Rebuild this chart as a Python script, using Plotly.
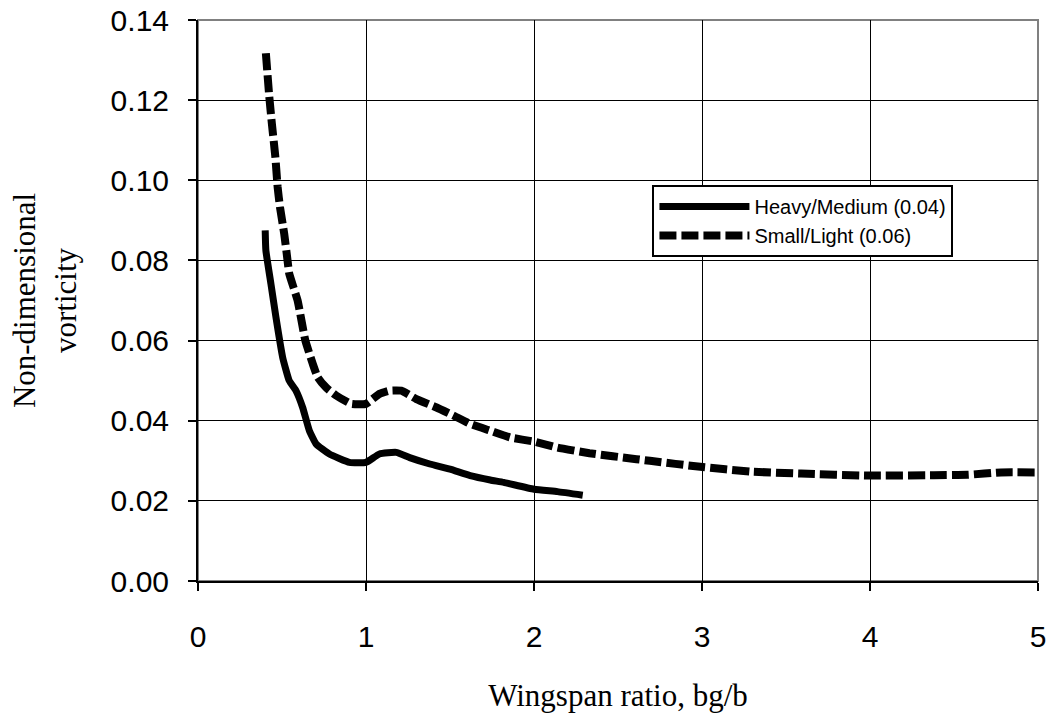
import plotly.graph_objects as go

# Heavy/Medium (0.04) series
heavy_x = [0.40, 0.404, 0.434, 0.464, 0.504, 0.543, 0.583, 0.623, 0.663, 0.703, 0.782, 0.901, 1.0,
           1.08, 1.18, 1.26, 1.38, 1.50, 1.62, 1.74, 1.82, 2.0, 2.14, 2.29]
heavy_y = [0.0875, 0.0825, 0.0742, 0.0658, 0.0558, 0.050, 0.0475, 0.0433, 0.0375, 0.0342, 0.0317, 0.0296, 0.0296,
           0.0317, 0.0321, 0.0308, 0.0292, 0.0279, 0.0263, 0.0252, 0.0246, 0.0229, 0.0223, 0.0214]

# Small/Light (0.06) series
light_x = [0.404, 0.424, 0.44, 0.46, 0.474, 0.488, 0.513, 0.533, 0.543, 0.593, 0.639, 0.683, 0.713, 0.762,
           0.822, 0.912, 1.0, 1.08, 1.14, 1.21, 1.30, 1.42, 1.52, 1.62, 1.74, 1.86, 2.0, 2.14, 2.33,
           2.61, 2.69, 2.99, 3.29, 3.59, 3.99, 4.38, 4.58, 4.78, 4.98]
light_y = [0.1317, 0.121, 0.114, 0.106, 0.0983, 0.0933, 0.0867, 0.080, 0.0767, 0.070, 0.060, 0.0542, 0.0508, 0.0483,
           0.0463, 0.0442, 0.0442, 0.0467, 0.0475, 0.0475, 0.0454, 0.0433, 0.0413, 0.0392, 0.0375, 0.0358, 0.0348, 0.0333, 0.0319,
           0.0304, 0.0300, 0.0285, 0.0273, 0.0268, 0.0263, 0.0264, 0.0265, 0.0271, 0.0271]

x_ticks = [0, 1, 2, 3, 4, 5]
y_ticks = [0.00, 0.02, 0.04, 0.06, 0.08, 0.10, 0.12, 0.14]

fig = go.Figure()
fig.add_trace(go.Scatter(x=heavy_x, y=heavy_y, mode="lines", name="Heavy/Medium (0.04)",
                         line=dict(color="black", width=7, shape="spline", smoothing=0.4)))
fig.add_trace(go.Scatter(x=light_x, y=light_y, mode="lines", name="Small/Light (0.06)",
                         line=dict(color="black", width=8, dash="17px,5px", shape="spline", smoothing=0.4)))

# grey plot border (top and right)
fig.add_shape(type="rect", xref="paper", yref="paper", x0=0, y0=0, x1=1, y1=1,
              line=dict(color="#808080", width=2), layer="below")

axis_font = dict(family="Liberation Sans, Arial", size=30, color="black")
title_font = dict(family="Liberation Serif, Times New Roman", size=31, color="black")

fig.update_layout(
    width=1050, height=718,
    margin=dict(l=198, r=12, t=20, b=137),
    paper_bgcolor="white", plot_bgcolor="white",
    showlegend=True,
    legend=dict(
        x=0.541, y=0.706, xanchor="left", yanchor="top",
        bgcolor="white", bordercolor="black", borderwidth=2,
        font=dict(family="Liberation Sans, Arial", size=20, color="black"),
        itemwidth=90, tracegroupgap=0,
    ),
    xaxis=dict(
        range=[0, 5], tickvals=x_ticks, ticktext=[str(v) for v in x_ticks],
        showgrid=True, gridcolor="black", gridwidth=1.3,
        showline=True, linecolor="black", linewidth=2,
        ticks="outside", ticklen=8, tickcolor="black", tickwidth=2,
        tickfont=axis_font, ticklabelstandoff=20, automargin=False,
        zeroline=False,
        title=dict(text="Wingspan ratio, bg/b", font=title_font, standoff=32),
    ),
    yaxis=dict(
        range=[0, 0.14], tickvals=y_ticks, ticktext=["%.2f" % v for v in y_ticks],
        showgrid=True, gridcolor="black", gridwidth=1.3,
        showline=True, linecolor="black", linewidth=2,
        ticks="outside", ticklen=8, tickcolor="black", tickwidth=2,
        tickfont=axis_font, ticklabelstandoff=13, automargin=False,
        zeroline=False,
        title=dict(text="Non-dimensional<br>vorticity", font=title_font, standoff=25),
    ),
)

fig.write_html("out.html")
